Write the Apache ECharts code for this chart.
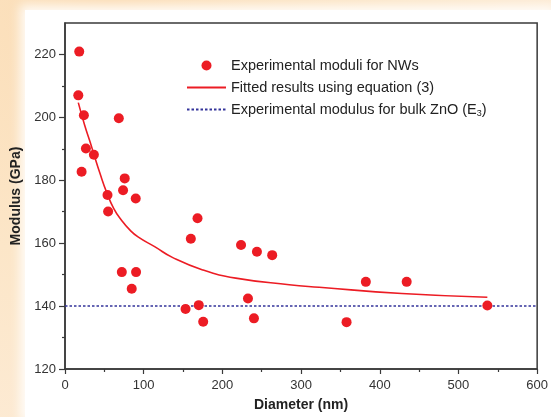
<!DOCTYPE html>
<html>
<head>
<meta charset="utf-8">
<script src="https://cdn.jsdelivr.net/npm/echarts@6/dist/echarts.min.js"></script>
<style>
  html, body { margin: 0; padding: 0; width: 551px; height: 417px; overflow: hidden;
    background: radial-gradient(ellipse at 20% 0%, #fbdcb4 0%, #fce6c8 45%, #fdeedd 100%); }
  #panel { position: absolute; left: 25px; top: 10px; width: 526px; height: 407px; background: #ffffff;
    box-shadow: 0 0 10px 5px rgba(255,255,255,0.85); }
  #chart { position: absolute; left: 0; top: 0; width: 551px; height: 417px; }
</style>
</head>
<body>
<div id="panel"></div>
<div id="chart"></div>
<script>
// Experimental moduli for NWs
const diameters = [18.1, 16.9, 24, 68.4, 26.6, 36.7, 21.1, 54, 54.8, 75.9, 73.8, 89.9, 72.2, 90.3, 84.8,
  153.2, 170, 175.6, 168.4, 159.9, 223.7, 243.9, 263.3, 232.5, 240.1, 357.8, 382.3, 434.2, 536.7];
const moduli = [220.9, 207, 200.7, 199.7, 190.1, 188.1, 182.7, 175.3, 170.1, 180.6, 176.8, 174.2, 150.8, 150.8, 145.5,
  139.1, 140.3, 135, 167.9, 161.4, 159.4, 157.3, 156.2, 142.4, 136.1, 134.9, 147.7, 147.7, 140.2];
// Fitted curve
const fitD = [16.9, 25, 31.6, 36.7, 44.3, 52.7, 62, 71.8, 82, 92.8, 113.9, 137, 175, 217, 285, 323, 428, 536.7];
const fitE = [204.7, 197.5, 192.4, 188.3, 182.3, 176.3, 171, 167.3, 164.3, 162, 158.9, 155.4, 151.5, 148.9, 146.8, 146, 144, 142.8];
// Bulk ZnO modulus
const bulkD = [0, 600];
const bulkE = [140, 140];
// Axis ticks
const yMajor = [120, 140, 160, 180, 200, 220];
const yMinor = [130, 150, 170, 190, 210];
const names = ['Experimental moduli for NWs', 'Fitted results using equation (3)', 'Experimental modulus for bulk ZnO (E3)'];

const red = '#ec1c24';
const blue = '#33339a';
const axisColor = '#3a3a3a';
const font = 'Liberation Sans, Arial, sans-serif';

const chart = echarts.init(document.getElementById('chart'), null, { renderer: 'canvas' });
const zip = (a, b) => a.map((v, i) => [v, b[i]]);

chart.setOption({
  backgroundColor: 'transparent',
  animation: false,
  grid: { left: 65, right: 11, top: 23, bottom: 40, show: true, borderColor: axisColor, borderWidth: 1.5, backgroundColor: '#ffffff' },
  legend: {
    orient: 'vertical', left: 186, top: 58, padding: 0, itemWidth: 39, itemHeight: 14, itemGap: 7,
    textStyle: { fontFamily: font, fontSize: 14.5, color: '#222',
      rich: { sub: { fontFamily: font, fontSize: 9, color: '#222', verticalAlign: 'bottom', padding: [8, 0, 0, 0] } } },
    formatter: function (n) { return n === names[2] ? 'Experimental modulus for bulk ZnO (E{sub|3})' : n; },
    data: [
      { name: names[0], icon: 'path://M0,0M39,0M39,14M0,14M14.5,7a5,5 0 1,0 10,0a5,5 0 1,0 -10,0z' },
      { name: names[1], itemStyle: { opacity: 0 } },
      { name: names[2], itemStyle: { opacity: 0 } }
    ]
  },
  xAxis: [{
    type: 'value', min: 0, max: 600, interval: 100,
    name: 'Diameter (nm)', nameLocation: 'middle', nameGap: 29,
    nameTextStyle: { fontFamily: font, fontSize: 14, fontWeight: 'bold', color: '#222' },
    axisLine: { show: true, lineStyle: { color: axisColor, width: 1.5 } },
    axisTick: { show: true, inside: false, length: 5, lineStyle: { color: axisColor, width: 1.2 } },
    minorTick: { show: true, splitNumber: 2, length: 3, lineStyle: { color: axisColor, width: 1.2 } },
    axisLabel: { fontFamily: font, fontSize: 13, color: '#333', margin: 10 },
    splitLine: { show: false }
  }],
  yAxis: [{
    type: 'value', min: 120, max: 230, interval: 10,
    name: 'Modulus (GPa)', nameLocation: 'middle', nameGap: 39,
    nameTextStyle: { fontFamily: font, fontSize: 14, fontWeight: 'bold', color: '#222' },
    axisLine: { show: true, lineStyle: { color: axisColor, width: 1.5 } },
    axisTick: { show: true, inside: false, length: 6, customValues: yMajor, lineStyle: { color: axisColor, width: 1.2 } },
    axisLabel: { fontFamily: font, fontSize: 13, color: '#333', margin: 9, customValues: yMajor },
    splitLine: { show: false }
  }, {
    type: 'value', min: 120, max: 230, interval: 10, position: 'left',
    axisLine: { show: false },
    axisTick: { show: true, inside: false, length: 3, customValues: yMinor, lineStyle: { color: axisColor, width: 1.2 } },
    axisLabel: { show: false },
    splitLine: { show: false }
  }],
  series: [
    {
      name: names[2], type: 'line', data: zip(bulkD, bulkE), symbol: 'none', z: 2,
      lineStyle: { color: blue, width: 1.5, type: [2.5, 2] }, itemStyle: { color: blue }
    },
    {
      name: names[1], type: 'line', data: zip(fitD, fitE), symbol: 'none', smooth: 0.5, z: 3,
      lineStyle: { color: red, width: 1.6 }, itemStyle: { color: red }
    },
    {
      name: names[0], type: 'scatter', data: zip(diameters, moduli), symbol: 'circle', symbolSize: 10, z: 4,
      itemStyle: { color: red, opacity: 1 }
    }
  ]
});
</script>
</body>
</html>
